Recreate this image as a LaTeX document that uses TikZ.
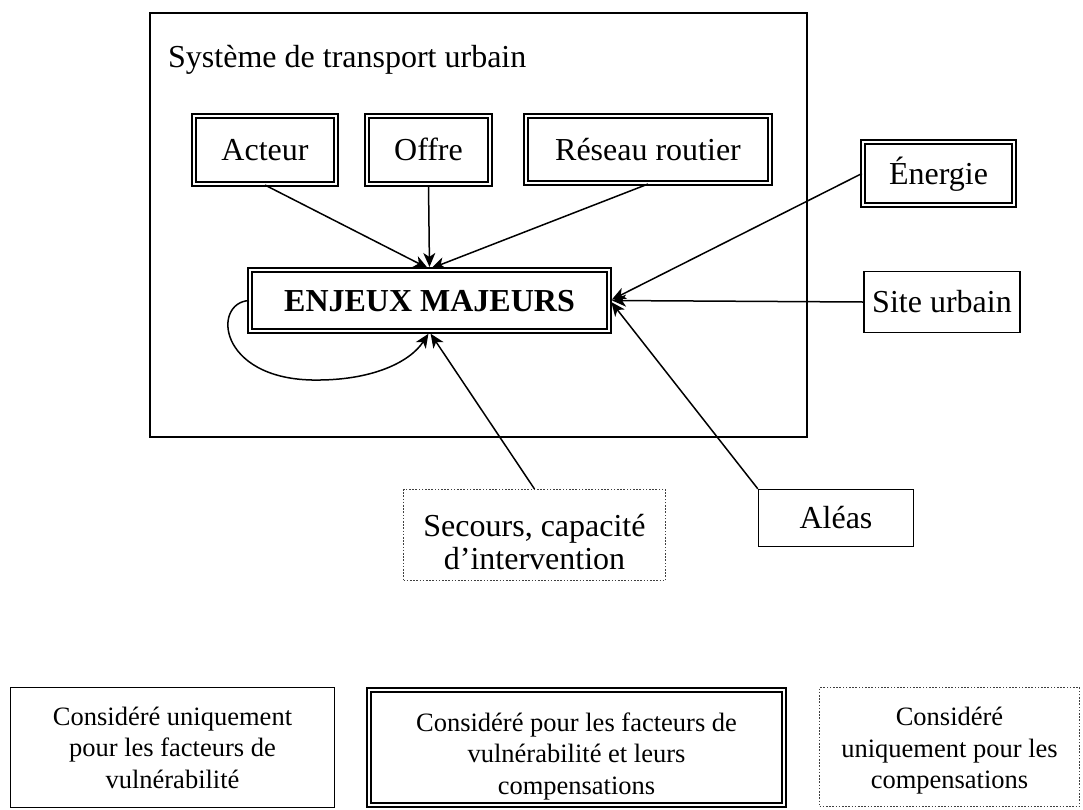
\documentclass[tikz,border=0pt]{standalone}
\usepackage{fontspec}
\setmainfont{Liberation Serif}
\usetikzlibrary{arrows.meta}
\begin{document}
\begin{tikzpicture}[x=1pt,y=-1pt,
  txt/.style={font=\fontsize{32}{33}\selectfont, align=center, inner sep=0pt},
  one/.style={text height=24pt, text depth=3pt},
  legtxt/.style={font=\fontsize{26.5}{31.5}\selectfont, align=center, inner sep=0pt},
  sbox/.style={draw, line width=1.4pt},
  dbox/.style={draw, line width=2.1pt, double, double distance=1.8pt},
  obox/.style={draw=black!75, line width=1pt, dash pattern=on 1.6pt off 1.6pt},
  arr/.style={line width=1.5pt, shorten >=2pt, -{Stealth[length=14pt,width=12pt,inset=4pt]}}
]
\useasboundingbox (0,0) rectangle (1083,809);
% frame
\draw[line width=1.4pt] (150,13) rectangle (807,437);
\node[txt, anchor=base west] (title) at (168,67) {Système de transport urbain};
% boxes
\node[txt, one, dbox, minimum width=142, minimum height=68] (act) at (265,150) {Acteur};
\node[txt, one, dbox, minimum width=123, minimum height=68] (off) at (428.5,150) {Offre};
\node[txt, one, dbox, minimum width=244, minimum height=67] (res) at (648,149.5) {Réseau routier};
\node[txt, one, dbox, minimum width=151, minimum height=63] (ene) at (938.5,173.5) {Énergie};
\node[txt, one, sbox, minimum width=156, minimum height=61] (site) at (942,302) {Site urbain};
\node[txt, one, dbox, minimum width=359, minimum height=61, font=\fontsize{32}{33}\selectfont\bfseries] (enj) at (429.5,300.5) {ENJEUX MAJEURS};
\node[txt, obox, minimum width=262, minimum height=91] (sec) at (534.5,535) {\raisebox{0pt}[36pt][0pt]{Secours, capacité}\\d’intervention};
\node[txt, one, sbox, minimum width=155, minimum height=57] (ale) at (836,518) {Aléas};
% connectors
\draw[arr] (act.south) -- (enj.north);
\draw[arr] (off.south) -- (enj.north);
\draw[arr] (res.south) -- (enj.north);
\draw[arr] (ene.west) -- (enj.east);
\draw[arr] (site.west) -- (enj.east);
\draw[arr] (ale.north west) -- (enj.east);
\draw[arr] (sec.north) -- (enj.south);
\coordinate (lp) at (312,380);
\draw[arr] (enj.west) .. controls (212,303) and (218,378) .. (lp) .. controls (372,381) and (410,362) .. (enj.south);
% legend
\node[legtxt, sbox, minimum width=324, minimum height=120] (leg1) at (172.5,747.5) {Considéré uniquement\\pour les facteurs de\\vulnérabilité};
\node[legtxt, dbox, minimum width=415, minimum height=115] (leg2) at (576.5,747.5) {\raisebox{0pt}[36pt][0pt]{Considéré pour les facteurs de}\\vulnérabilité et leurs\\compensations};
\node[legtxt, obox, minimum width=260, minimum height=119] (leg3) at (949.5,747) {\raisebox{0pt}[26pt][0pt]{Considéré}\\uniquement pour les\\compensations};
\end{tikzpicture}
\end{document}
